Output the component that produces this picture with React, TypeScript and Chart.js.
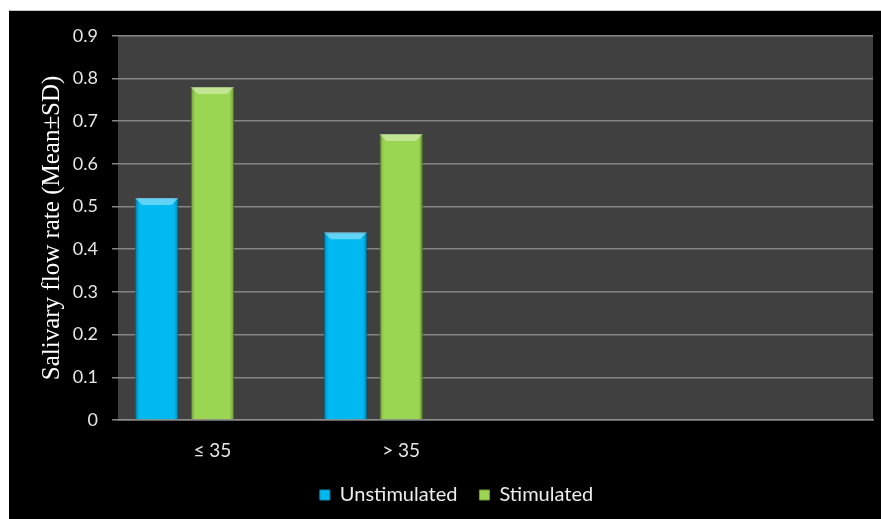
import React, { useEffect, useRef } from "react";
import { Chart, registerables } from "chart.js";

Chart.register(...registerables);

const categories = ["≤ 35", "> 35", "", ""];
const unstimulated = [0.52, 0.44, null, null];
const stimulated = [0.78, 0.67, null, null];
const spare = [null, null, null, null];
const seriesNames = ["Unstimulated", "Stimulated", ""];
const yTicks = [0, 0.1, 0.2, 0.3, 0.4, 0.5, 0.6, 0.7, 0.8, 0.9];

const plotBg = {
  id: "plotBg",
  beforeDraw(chart: any) {
    const { ctx, chartArea } = chart;
    ctx.save();
    ctx.fillStyle = "#404040";
    ctx.fillRect(chartArea.left, chartArea.top, chartArea.right - chartArea.left, chartArea.bottom - chartArea.top);
    ctx.restore();
  },
};

const bevel = {
  id: "bevel",
  afterDatasetsDraw(chart: any) {
    const { ctx } = chart;
    [0, 1].forEach((di) => {
      const meta = chart.getDatasetMeta(di);
      meta.data.forEach((el: any, i: number) => {
        const v = chart.data.datasets[di].data[i];
        if (v == null) return;
        const { x, y, base, width } = el.getProps(["x", "y", "base", "width"], true);
        const l = x - width / 2;
        const r = x + width / 2;
        const h = base - y;
        const b = 7;
        ctx.save();
        const g = ctx.createLinearGradient(l, 0, r, 0);
        g.addColorStop(0, "rgba(0,0,0,0.3)");
        g.addColorStop(0.1, "rgba(0,0,0,0.0)");
        g.addColorStop(0.9, "rgba(0,0,0,0.0)");
        g.addColorStop(1, "rgba(0,0,0,0.3)");
        ctx.fillStyle = g;
        ctx.fillRect(l, y, width, h);
        ctx.beginPath();
        ctx.moveTo(l, y);
        ctx.lineTo(r, y);
        ctx.lineTo(r - b, y + b);
        ctx.lineTo(l + b, y + b);
        ctx.closePath();
        ctx.fillStyle = "rgba(255,255,255,0.38)";
        ctx.fill();
        ctx.restore();
      });
    });
  },
};

export default function App() {
  const ref = useRef<HTMLCanvasElement>(null);
  useEffect(() => {
    if (!ref.current) return;
    const chart = new Chart(ref.current, {
      type: "bar",
      data: {
        labels: categories,
        datasets: [
          { label: seriesNames[0], data: unstimulated, backgroundColor: "#00b9f1", borderColor: "#0a8fbf", borderWidth: 1 },
          { label: seriesNames[1], data: stimulated, backgroundColor: "#9bd652", borderColor: "#6f9e38", borderWidth: 1 },
          { label: seriesNames[2], data: spare, backgroundColor: "#888" },
        ],
      },
      options: {
        responsive: false,
        animation: false,
        devicePixelRatio: 1,
        layout: { padding: { left: 31, right: 8, top: 22, bottom: 4 } },
        datasets: { bar: { categoryPercentage: 0.884, barPercentage: 0.78 } },
        scales: {
          x: {
            grid: { display: false },
            border: { display: true, color: "#8c8c8c", width: 1.5 },
            ticks: { color: "#e6e6e6", font: { family: "Lato", size: 19 }, padding: 11, maxRotation: 0 },
            afterFit(scale: any) { scale.height = 43; },
          },
          y: {
            min: 0,
            max: 0.9,
            afterBuildTicks(scale: any) { scale.ticks = yTicks.map((v) => ({ value: v })); },
            ticks: {
              color: "#e6e6e6",
              font: { family: "Lato", size: 18 },
              padding: 14,
              callback: (v: any) => String(Math.round(v * 10) / 10),
            },
            grid: { color: "#858585", lineWidth: 1.5, tickLength: 6, tickColor: "#858585" },
            border: { display: false },
            title: {
              display: true,
              text: "Salivary flow rate (Mean±SD)",
              color: "#ffffff",
              font: { family: "Liberation Serif", size: 25 },
              padding: { top: -3, bottom: 0 },
            },
            afterFit(scale: any) { scale.width = 78; },
          },
        },
        plugins: {
          legend: {
            position: "bottom",
            labels: {
              color: "#ececec",
              font: { family: "Lato", size: 20 },
              boxWidth: 10,
              boxHeight: 10,
              padding: 22,
              filter: (item: any) => item.text !== "",
            },
          },
          tooltip: { enabled: false },
        },
      },
      plugins: [plotBg, bevel],
    });
    return () => chart.destroy();
  }, []);
  return (
    <div
      style={{
        position: "fixed",
        left: 9,
        top: 10,
        width: 872,
        height: 509,
        background: "#000",
        borderTop: "1px solid #c8c8c8",
        boxSizing: "border-box",
      }}
    >
      <canvas ref={ref} width={872} height={508} style={{ display: "block" }} />
    </div>
  );
}
